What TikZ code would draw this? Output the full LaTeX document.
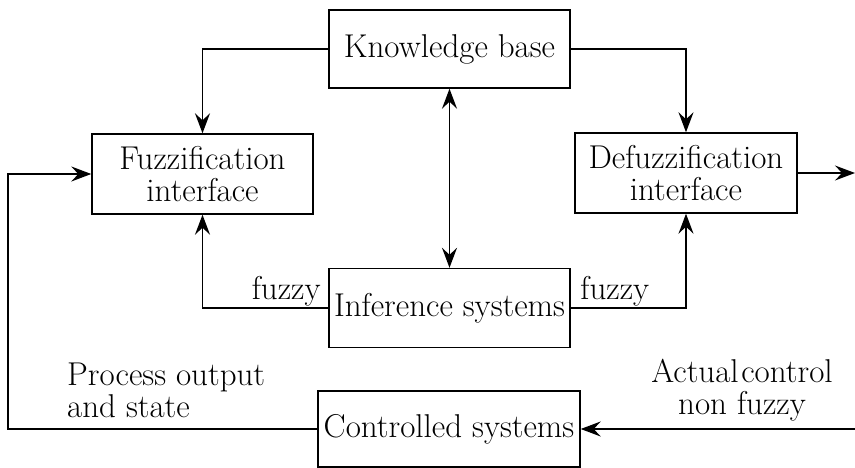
\documentclass[tikz,border=0pt]{standalone}
\usepackage{tikz}
\usetikzlibrary{arrows.meta,positioning,calc}

\begin{document}
\begin{tikzpicture}[
  x=1pt, y=-1pt,
  >={Stealth[length=20pt, width=15pt, inset=7pt]},
  box/.style={rectangle, draw, line width=1.4pt, align=center, inner sep=2pt,
    font=\fontsize{33}{32}\selectfont},
  lbl/.style={align=center, inner sep=1pt, font=\fontsize{33}{32}\selectfont},
  arrow/.style={->, line width=1.4pt}
]
  \useasboundingbox (0,0) rectangle (855,468);

  % Blocks
  \node[box, minimum width=241pt, minimum height=78pt] (kb) at (449.5,49) {Knowledge base};
  \node[box, minimum width=221pt, minimum height=80pt] (fuzz) at (202.5,174) {Fuzzification\\interface};
  \node[box, minimum width=222pt, minimum height=80pt] (defuzz) at (686,173) {Defuzzification\\interface};
  \node[box, minimum width=241pt, minimum height=79pt] (inf) at (449.5,308) {Inference systems};
  \node[box, minimum width=262pt, minimum height=76pt] (ctrl) at (449,429) {Controlled systems};

  % Free ends
  \coordinate (fb) at (8,0);
  \coordinate (uin) at (855,429);
  \coordinate (yout) at (855,173);

  % Side labels
  \node[lbl, align=left, anchor=west] (pout) at (66,390) {Process output\\and state};
  \node[lbl] (act) at (742,390) {Actual\hspace{0.08em}control\\non fuzzy};

  % Connections
  \draw[arrow] (kb.west) -| (fuzz.north);
  \draw[arrow] (kb.east) -| (defuzz.north);
  \draw[arrow, <->] (kb) -- (inf);
  \draw[arrow] (inf.west) -| node[lbl, pos=0, anchor=south east, xshift=-6pt] (fzl) {fuzzy} (fuzz.south);
  \draw[arrow] (inf.east) -| node[lbl, pos=0, anchor=south west, xshift=8pt] (fzr) {fuzzy} (defuzz.south);
  \draw[arrow] (defuzz.east) -- (yout);
  \draw[arrow] (uin) -- (ctrl.east);
  \draw[arrow] (ctrl.west) -- (ctrl.west -| fb) |- (fuzz.west);
\end{tikzpicture}
\end{document}
